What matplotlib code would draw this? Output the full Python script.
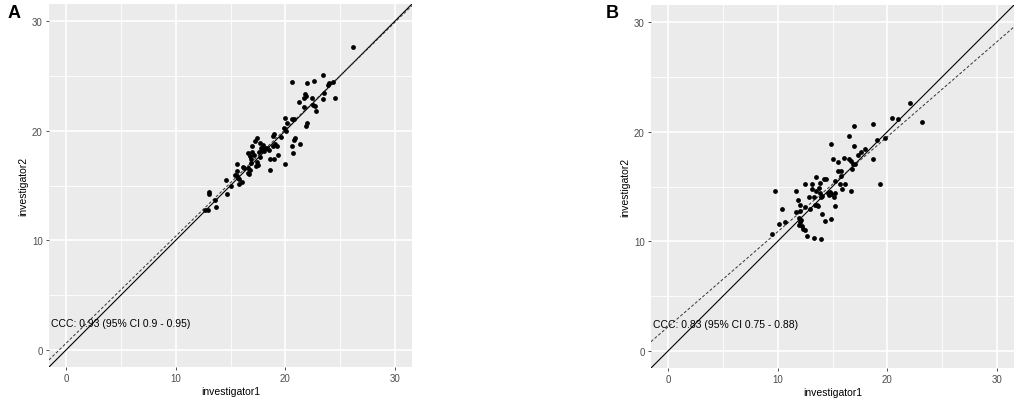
import matplotlib
matplotlib.use("Agg")
import matplotlib.pyplot as plt
import numpy as np

plt.rcParams['font.family'] = ['Liberation Sans', 'DejaVu Sans']

# Panel A data
a_inv1 = [26.15, 20.57, 21.97, 22.6, 23.48, 23.94, 24.33, 23.85, 24.57, 23.54, 23.45, 21.78, 21.85, 21.73,
          22.42, 21.21, 21.69, 22.51, 22.66, 22.82, 20.0, 20.57, 20.75, 20.18, 19.87, 20.03, 22.0, 21.85,
          19.64, 20.87, 20.78, 21.33, 20.57, 20.73, 19.94, 18.87, 19.0, 19.05, 19.27, 18.9, 19.36, 18.94,
          18.63, 18.57, 17.45, 17.24, 17.69, 16.96, 17.75, 17.9, 18.33, 18.12, 18.06, 18.5, 17.6, 16.6,
          16.8, 17.18, 17.66, 17.4, 16.9, 16.27, 16.15, 15.6, 16.64, 16.82, 16.6, 17.36, 17.48, 16.66,
          15.42, 15.55, 15.69, 15.63, 15.78, 16.03, 15.73, 15.03, 14.55, 14.66, 13.05, 13.0, 13.6, 13.7,
          12.7, 12.96, 17.0, 16.85, 18.0, 17.9]
a_inv2 = [27.65, 24.44, 24.32, 24.5, 25.05, 24.39, 24.44, 24.14, 22.94, 23.48, 22.9, 23.33, 23.12, 22.94,
          22.94, 22.57, 22.12, 22.33, 22.21, 21.81, 21.2, 21.03, 21.03, 20.7, 20.2, 20.0, 20.7, 20.4,
          19.4, 19.37, 19.18, 18.8, 18.64, 18.0, 17.0, 19.55, 19.67, 18.82, 18.64, 18.64, 17.77, 17.41,
          17.41, 16.37, 19.31, 19.07, 18.91, 18.58, 18.43, 18.4, 18.4, 18.46, 18.13, 18.22, 18.04, 17.95,
          17.73, 17.77, 17.59, 17.13, 17.04, 16.59, 16.68, 16.92, 16.59, 16.44, 16.1, 16.74, 16.89, 16.01,
          15.98, 15.83, 15.68, 16.28, 15.56, 15.32, 15.1, 14.99, 15.5, 14.23, 14.4, 14.2, 13.7, 13.05,
          12.75, 12.8, 18.1, 17.4, 18.7, 18.25]

# Panel B data
b_inv1 = [22.05, 20.42, 20.93, 23.17, 16.94, 18.72, 16.52, 19.78, 19.09, 14.85, 16.97, 17.97, 17.6, 17.36,
          18.66, 15.06, 15.52, 16.03, 16.55, 16.7, 16.91, 17.09, 16.76, 15.46, 15.82, 15.22, 15.76, 15.64,
          16.15, 15.85, 16.73, 19.33, 15.1, 15.25, 13.49, 13.1, 12.52, 14.22, 14.43, 13.88, 13.16, 13.52,
          13.73, 13.34, 12.83, 13.85, 14.07, 13.97, 14.58, 14.73, 14.82, 14.64, 13.58, 13.4, 13.67, 12.95,
          12.52, 12.04, 11.89, 11.7, 9.74, 10.44, 10.1, 10.65, 9.44, 11.7, 12.01, 11.95, 12.1, 12.07,
          11.95, 12.25, 12.34, 12.49, 12.7, 13.28, 13.97, 14.0, 14.34, 14.85, 15.25]
b_inv2 = [22.57, 21.22, 21.16, 20.91, 20.55, 20.67, 19.64, 19.46, 19.25, 18.83, 18.65, 18.43, 18.19, 17.83,
          17.5, 17.47, 17.26, 17.59, 17.47, 17.32, 17.01, 17.01, 16.56, 16.38, 16.44, 15.53, 15.96, 15.23,
          15.26, 14.81, 14.6, 15.23, 14.02, 13.24, 15.84, 15.26, 15.2, 15.68, 15.65, 15.29, 14.75, 14.57,
          14.87, 14.0, 14.0, 14.42, 14.17, 14.0, 14.42, 14.51, 14.3, 14.26, 13.3, 13.3, 13.24, 12.93,
          13.09, 13.27, 13.75, 14.57, 14.57, 12.93, 11.6, 11.73, 10.67, 12.63, 12.81, 12.09, 11.94, 11.73,
          11.48, 11.36, 11.09, 11.06, 10.46, 10.31, 10.21, 12.51, 11.85, 12.06, 14.42]

panel_labels = ["A", "B"]
ccc_texts = ["CCC: 0.93 (95% CI 0.9 - 0.95)", "CCC: 0.83 (95% CI 0.75 - 0.88)"]
fit_lines = [(0.976, 0.61), (0.867, 2.2)]  # (slope, intercept) of dashed lines
ticks = [0, 10, 20, 30]
lims = (-1.55, 31.55)

W, H = 1021, 402
fig = plt.figure(figsize=(W / 100, H / 100), dpi=100)
fig.patch.set_facecolor("white")

panels = [
    (a_inv1, a_inv2, 49, 5, 412, 368, 14, 14),
    (b_inv1, b_inv2, 651, 6, 1014, 369, 612, 14),
]

for i, (xs, ys, l, t, r, b, lx, ly) in enumerate(panels):
    ax = fig.add_axes([l / W, 1 - b / H, (r - l) / W, (b - t) / H])
    ax.set_facecolor("#EBEBEB")
    ax.set_xlim(*lims)
    ax.set_ylim(*lims)
    ax.set_xticks(ticks)
    ax.set_yticks(ticks)
    ax.set_xticks([5, 15, 25], minor=True)
    ax.set_yticks([5, 15, 25], minor=True)
    ax.grid(True, which="major", color="white", linewidth=1.2)
    ax.grid(True, which="minor", color="white", linewidth=0.6)
    ax.set_axisbelow(True)
    for s in ax.spines.values():
        s.set_visible(False)
    ax.tick_params(which="major", length=2.5, width=0.6, color="#333333",
                   labelsize=7, labelcolor="#4D4D4D", pad=2)
    ax.tick_params(which="minor", length=0)
    xx = np.array(lims)
    ax.plot(xx, xx, color="black", linewidth=0.8, zorder=2)
    slope, inter = fit_lines[i]
    ax.plot(xx, slope * xx + inter, color="#333333", linewidth=0.7,
            linestyle=(0, (3, 2)), zorder=2)
    ax.scatter(xs, ys, s=12, color="black", zorder=3, linewidths=0)
    ax.text(-1.4, 2.45, ccc_texts[i], fontsize=7.5, ha="left", va="center", color="black")
    ax.set_xlabel("investigator1", fontsize=7.5, labelpad=2)
    ax.set_ylabel("investigator2", fontsize=7.5, labelpad=3)
    fig.text(lx / W, 1 - ly / H, panel_labels[i], fontsize=13, fontweight="bold",
             ha="center", va="center")

fig.savefig("out.png", dpi=100)
